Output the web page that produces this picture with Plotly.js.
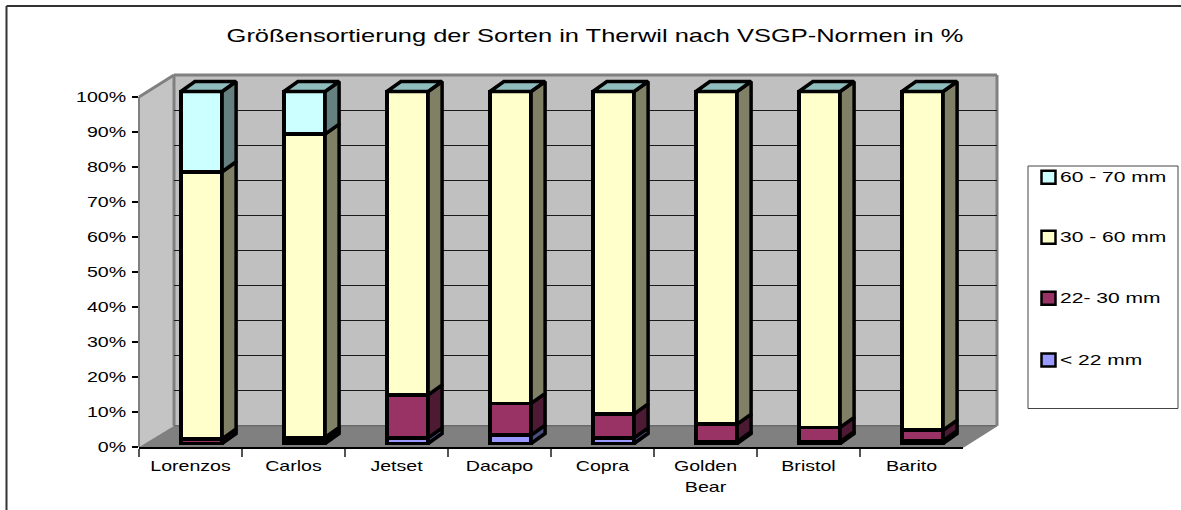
<!DOCTYPE html>
<html>
<head>
<meta charset="utf-8">
<script src="https://cdn.plot.ly/plotly-3.0.1.min.js"></script>
<style>html,body{margin:0;padding:0;background:#fff}#chart{width:1181px;height:510px}</style>
</head>
<body>
<div id="chart"></div>
<script>
// ---- data ----
const categories = ["Lorenzos","Carlos","Jetset","Dacapo","Copra","Golden<br>Bear","Bristol","Barito"];
const under22   = [0,   0.7, 1.6, 2.4, 1.6, 0.5, 0.5, 0.8];
const from22to30= [1.3, 1.0, 12.2,9.0, 6.8, 5.0, 4.1, 3.0];
const from30to60= [75.9,86.2,86.2,88.6,91.6,94.5,95.4,96.2];
const from60to70= [22.8,12.1,0,   0,   0,   0,   0,   0];
const seriesNames = ["< 22 mm","22- 30 mm","30 - 60 mm","60 - 70 mm"];
const seriesValues = [under22, from22to30, from30to60, from60to70];
const frontColors = ["#9999FF","#993366","#FFFFCC","#CCFFFF"];
const sideColors  = ["#4D4D80","#4D1A33","#808066","#668080"];
const topColor = "#8FBDBD";
const yTicks = [0,10,20,30,40,50,60,70,80,90,100];

// ---- layout geometry (px) ----
const W = 1181, H = 510;
const fx = x => x / W, fy = y => 1 - y / H;
const front = {l:139, r:963, t:97, b:447};
const back  = {l:174, r:997, t:75, b:425.7};
const bars  = {l:150, r:974, t:91.5, b:443.5};
const pxPerPct = (bars.b - bars.t) / 100;
const barRange = [-5, 110];   // room for the depth faces above and strokes below
const legendBox = {l:1028, r:1178, t:166, b:408.5};
const legendRows = [360, 298.3, 237.3, 177.3];
const TICK_FONT = 14.5, TITLE_FONT = 19, STRETCH_TICK = 1.35, STRETCH_LEGEND = 1.45, STRETCH_TITLE = 1.34;
const EDGE = 3.5;
const barWidth = 0.4, depthX = 14 / 103, depthY = 10 / pxPerPct;
const xIdx = categories.map((_, i) => i);

const traces = [];
// axis carrier for the visible category axis
traces.push({type:"scatter", mode:"none", x:categories, y:categories.map(()=>0), xaxis:"x3", yaxis:"y3", showlegend:false, hoverinfo:"skip"});
// grid carrier (back wall)
traces.push({type:"scatter", mode:"none", x:[0], y:[0], xaxis:"x", yaxis:"y", showlegend:false, hoverinfo:"skip"});

// front faces: real stacked bars
seriesValues.forEach((vals, s) => {
  traces.push({type:"bar", name:seriesNames[s], x:xIdx, y:vals, xaxis:"x2", yaxis:"y2", width:barWidth,
    marker:{color:frontColors[s], line:{color:"#000", width:EDGE}}, showlegend:false});
});
// side faces derived from the same stacked values
const cum = categories.map(()=>0);
seriesValues.forEach((vals, s) => {
  const xs = [], ys = [];
  vals.forEach((v, j) => {
    const base = cum[j], top = base + v, xr = j + barWidth/2;
    if (v > 0) {
      xs.push(xr, xr+depthX, xr+depthX, xr, xr, null);
      ys.push(base, base+depthY, top+depthY, top, base, null);
    }
    cum[j] = top;
  });
  traces.push({type:"scatter", mode:"lines", x:xs, y:ys, xaxis:"x2", yaxis:"y2", fill:"toself", fillcolor:sideColors[s],
    line:{color:"#000", width:EDGE}, showlegend:false, hoverinfo:"skip"});
});
// top faces
{
  const xs = [], ys = [];
  cum.forEach((t, j) => {
    const xl = j - barWidth/2, xr = j + barWidth/2;
    xs.push(xl, xl+depthX, xr+depthX, xr, xl, null);
    ys.push(t, t+depthY, t+depthY, t, t, null);
  });
  traces.push({type:"scatter", mode:"lines", x:xs, y:ys, xaxis:"x2", yaxis:"y2", fill:"toself", fillcolor:topColor,
    line:{color:"#000", width:EDGE}, showlegend:false, hoverinfo:"skip"});
}

const poly = pts => "M" + pts.map(p => fx(p[0]) + "," + fy(p[1])).join("L") + "Z";
const segPath = (a, b) => "M" + fx(a[0]) + "," + fy(a[1]) + "L" + fx(b[0]) + "," + fy(b[1]);
const pShape = (path, fill, lineColor, lw) => ({type:"path", xref:"paper", yref:"paper", path, fillcolor:fill||"rgba(0,0,0,0)", line:{color:lineColor||"rgba(0,0,0,0)", width:lw||0}, layer:"below"});

const shapes = [
  pShape(poly([[back.l,back.t],[back.r,back.t],[back.r,back.b],[back.l,back.b]]), "#C0C0C0"),
  pShape(poly([[front.l,front.t],[back.l,back.t],[back.l,back.b],[front.l,front.b]]), "#C4C4C4"),
  pShape(poly([[front.l,front.b],[back.l,back.b],[back.r,back.b],[front.r,front.b]]), "#808080"),
  pShape(segPath([back.l,back.t],[back.r,back.t]), null, "#808080", 3),
  pShape(segPath([back.r,back.t],[back.r,back.b]), null, "#808080", 3),
  pShape(segPath([back.l,back.t],[back.l,back.b]), null, "#808080", 3),
  pShape(segPath([front.l,front.t],[back.l,back.t]), null, "#808080", 3),
  pShape(segPath([front.l,front.t],[front.l,front.b]), null, "#808080", 2),
  pShape(segPath([back.l,back.b],[back.r,back.b]), null, "#6A6A6A", 1.5),
  pShape(segPath([front.r,front.b],[back.r,back.b]), null, "#808080", 1.5),
  // outer chart frame
  pShape(segPath([6.5,6],[1181,6]), null, "#333", 2),
  pShape(segPath([6.5,6],[6.5,510]), null, "#333", 2),
  // legend frame
  {type:"rect", xref:"paper", yref:"paper", x0:fx(legendBox.l), x1:fx(legendBox.r), y0:fy(legendBox.b), y1:fy(legendBox.t), line:{color:"#444", width:1}, fillcolor:"#fff", layer:"below"}
];
seriesNames.forEach((n, s) => {
  shapes.push({type:"rect", xref:"paper", yref:"paper", x0:fx(1041.5), x1:fx(1055.5), y0:fy(legendRows[s]+6.5), y1:fy(legendRows[s]-6.5),
    fillcolor:frontColors[s], line:{color:"#000", width:2.5}, layer:"above"});
});

const annotations = seriesNames.map((n, s) => ({
  xref:"paper", yref:"paper", x:fx(1059), y:fy(legendRows[s]), xanchor:"left", yanchor:"middle", showarrow:false, text:n,
  font:{family:"Liberation Sans, Arial, sans-serif", size:TICK_FONT, color:"#000"}, borderpad:0, captureevents:false
}));

const layout = {
  width:W, height:H, margin:{l:0,r:0,t:0,b:0}, paper_bgcolor:"#fff", plot_bgcolor:"rgba(0,0,0,0)",
  showlegend:false, barmode:"stack", bargap:0,
  font:{family:"Liberation Sans, Arial, sans-serif", size:TICK_FONT, color:"#000"},
  title:{text:"Größensortierung der Sorten in Therwil nach VSGP-Normen in %", font:{size:TITLE_FONT, color:"#000"},
    x:fx(595), xref:"paper", xanchor:"center", y:fy(35), yref:"paper", yanchor:"middle"},
  // back-wall gridlines
  xaxis:{domain:[fx(back.l),fx(back.r)], range:[0,1], visible:false, fixedrange:true, anchor:"y"},
  yaxis:{domain:[fy(back.b),fy(back.t)], range:[0,100], tickvals:yTicks, showticklabels:false, ticks:"", showgrid:true, gridcolor:"#1a1a1a", gridwidth:1, zeroline:false, showline:false, fixedrange:true, anchor:"x"},
  // bars
  xaxis2:{domain:[fx(bars.l),fx(bars.r)], range:[-0.5,7.5], visible:false, fixedrange:true, anchor:"y2"},
  yaxis2:{domain:[fy(bars.b - barRange[0]*pxPerPct),fy(bars.b - barRange[1]*pxPerPct)], range:barRange, visible:false, fixedrange:true, anchor:"x2"},
  // visible axes
  xaxis3:{domain:[fx(front.l),fx(front.r)], type:"category", categoryorder:"array", categoryarray:categories, range:[-0.5,7.5], tickson:"boundaries", ticks:"outside", ticklen:8, tickcolor:"#555", tickwidth:1.5, ticklabelstandoff:5,
    showgrid:false, zeroline:false, showline:true, linecolor:"#000", linewidth:1.5, tickangle:0, tickfont:{size:TICK_FONT}, fixedrange:true, anchor:"y3"},
  yaxis3:{domain:[fy(front.b),fy(front.t)], range:[0,100], tickvals:yTicks, ticktext:yTicks.map(v=>v+"%"), ticks:"outside", ticklen:6, tickcolor:"#000", tickwidth:1.5, ticklabelstandoff:3,
    showgrid:false, zeroline:false, showline:false, tickfont:{size:TICK_FONT}, fixedrange:true, anchor:"x3"},
  shapes, annotations
};

// the reference's text is horizontally stretched: widen glyphs without changing their height
function stretchText(el, k) {
  const w = el.getComputedTextLength();
  if (w > 0) { el.setAttribute("textLength", (w * k).toFixed(1)); el.setAttribute("lengthAdjust", "spacingAndGlyphs"); }
  return w;
}
Plotly.newPlot("chart", traces, layout, {displayModeBar:false, staticPlot:true}).then(gd => {
  gd.querySelectorAll(".gtitle").forEach(t => stretchText(t, STRETCH_TITLE));
  gd.querySelectorAll(".xtick text, .x3tick text, .ytick text, .y3tick text").forEach(t => {
    const lines = t.querySelectorAll("tspan.line");
    if (lines.length) {
      lines.forEach((l, i) => {
        stretchText(l, STRETCH_TICK);
        if (i > 0 && l.hasAttribute("y")) l.setAttribute("y", parseFloat(l.getAttribute("y")) + 2);
      });
    } else stretchText(t, STRETCH_TICK);
  });
  gd.querySelectorAll(".annotation-text").forEach(t => {
    const w = stretchText(t, STRETCH_LEGEND);
    t.setAttribute("x", parseFloat(t.getAttribute("x")||0) + w * (STRETCH_LEGEND - 1) / 2);
  });
});
</script>
</body>
</html>
